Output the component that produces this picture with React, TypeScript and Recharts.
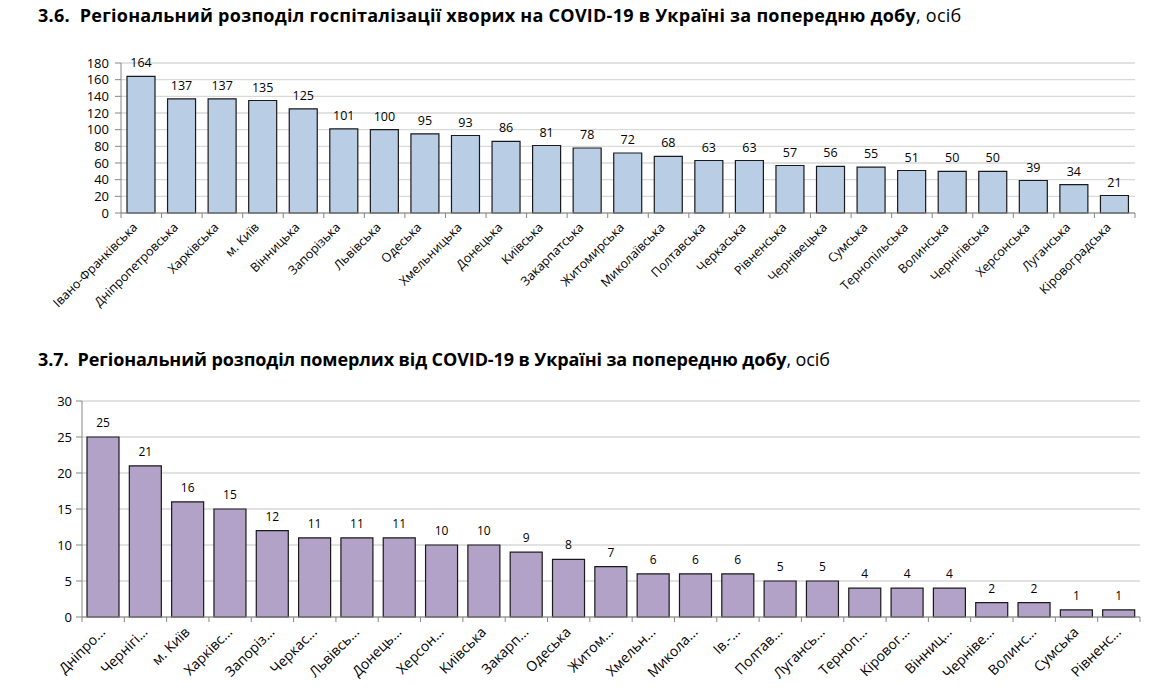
import React from "react";
import { BarChart, Bar, XAxis, YAxis, CartesianGrid, LabelList } from "recharts";

const hospRegions = [
  "Івано-Франківська", "Дніпропетровська", "Харківська", "м. Київ", "Вінницька",
  "Запорізька", "Львівська", "Одеська", "Хмельницька", "Донецька", "Київська",
  "Закарпатська", "Житомирська", "Миколаївська", "Полтавська", "Черкаська",
  "Рівненська", "Чернівецька", "Сумська", "Тернопільська", "Волинська",
  "Чернігівська", "Херсонська", "Луганська", "Кіровоградська",
];
const hospValues = [164, 137, 137, 135, 125, 101, 100, 95, 93, 86, 81, 78, 72, 68, 63, 63, 57, 56, 55, 51, 50, 50, 39, 34, 21];
const hospTicks = [0, 20, 40, 60, 80, 100, 120, 140, 160, 180];

const deathRegions = [
  "Дніпро...", "Чернігі...", "м. Київ", "Харківс...", "Запоріз...", "Черкас...",
  "Львівсь...", "Донець...", "Херсон...", "Київська", "Закарп...", "Одеська",
  "Житом...", "Хмельн...", "Микола...", "Ів.-...", "Полтав...", "Лугансь...",
  "Терноп...", "Кіровог...", "Вінниц...", "Черніве...", "Волинс...", "Сумська", "Рівненс...",
];
const deathValues = [25, 21, 16, 15, 12, 11, 11, 11, 10, 10, 9, 8, 7, 6, 6, 6, 5, 5, 4, 4, 4, 2, 2, 1, 1];
const deathTicks = [0, 5, 10, 15, 20, 25, 30];

const hospData = hospRegions.map((name, i) => ({ name, value: hospValues[i] }));
const deathData = deathRegions.map((name, i) => ({ name, value: deathValues[i] }));

const FONT = "'Open Sans', 'Noto Sans', sans-serif";

const W = 1160;
const T_LEFT = 121, T_RIGHT = 1135;
const B_LEFT = 82, B_RIGHT = 1140;

function makeTick(step: number, fontSize: number, dx: number, dy: number) {
  return (props: any) => {
    const { x, y, payload, index } = props;
    return (
      <g>
        {index === 0 && (
          <line x1={x - step / 2} x2={x - step / 2} y1={y} y2={y + 5} stroke="#868686" strokeWidth={1} />
        )}
        <line x1={x + step / 2} x2={x + step / 2} y1={y} y2={y + 5} stroke="#868686" strokeWidth={1} />
        <text
          x={x + dx}
          y={y + dy}
          textAnchor="end"
          fontSize={fontSize}
          fontFamily={FONT}
          fill="#000"
          transform={`rotate(-45 ${x + dx} ${y + dy})`}
        >
          {payload.value}
        </text>
      </g>
    );
  };
}

const titleStyle: React.CSSProperties = {
  position: "absolute",
  left: 38,
  fontFamily: "'Open Sans', sans-serif",
  fontSize: 18,
  color: "#000",
  whiteSpace: "nowrap",
  letterSpacing: -0.1,
  lineHeight: "24px",
};

export default function App() {
  const topStep = (T_RIGHT - T_LEFT) / hospData.length;
  const botStep = (B_RIGHT - B_LEFT) / deathData.length;
  return (
    <div style={{ position: "absolute", left: 0, top: 0, width: W, height: 694, background: "#fff", overflow: "hidden" }}>
      <div style={{ ...titleStyle, top: 3, letterSpacing: 0.25 }}>
        <b>3.6.&nbsp; Регіональний розподіл госпіталізації хворих на COVID-19 в Україні за попередню добу</b>, осіб
      </div>
      <div style={{ position: "absolute", left: 0, top: 0 }}>
        <BarChart
          width={W}
          height={340}
          data={hospData}
          margin={{ top: 63, right: W - T_RIGHT, left: 0, bottom: 7 }}
          barSize={28}
        >
          <CartesianGrid vertical={false} stroke="#d9d9d9" strokeWidth={1.3} />
          <XAxis
            dataKey="name"
            interval={0}
            height={120}
            axisLine={{ stroke: "#868686" }}
            tickLine={false}
            tickSize={0}
            tickMargin={0}
            tick={makeTick(topStep, 12.5, -3, 15)}
          />
          <YAxis
            width={T_LEFT}
            domain={[0, 180]}
            ticks={hospTicks}
            interval={0}
            axisLine={{ stroke: "#868686" }}
            tickLine={{ stroke: "#868686" }}
            tickSize={6}
            tick={{ fontSize: 13, fontFamily: FONT, fill: "#000", dx: -4 }}
          />
          <Bar dataKey="value" fill="#b9cde5" stroke="#1a1a1a" strokeWidth={1.2} isAnimationActive={false}>
            <LabelList dataKey="value" position="top" offset={9} fontSize={12.5} fontFamily={FONT} fill="#000" />
          </Bar>
        </BarChart>
      </div>
      <div style={{ ...titleStyle, top: 347 }}>
        <b>3.7.&nbsp; Регіональний розподіл померлих від COVID-19 в Україні за попередню добу</b>, осіб
      </div>
      <div style={{ position: "absolute", left: 0, top: 380 }}>
        <BarChart
          width={W}
          height={314}
          data={deathData}
          margin={{ top: 21, right: W - B_RIGHT, left: 0, bottom: 0 }}
          barSize={32}
        >
          <CartesianGrid vertical={false} stroke="#d9d9d9" strokeWidth={1.3} />
          <XAxis
            dataKey="name"
            interval={0}
            height={77}
            axisLine={{ stroke: "#868686" }}
            tickLine={false}
            tickSize={0}
            tickMargin={0}
            tick={makeTick(botStep, 14, 3, 16)}
          />
          <YAxis
            width={B_LEFT}
            domain={[0, 30]}
            ticks={deathTicks}
            interval={0}
            axisLine={{ stroke: "#868686" }}
            tickLine={{ stroke: "#868686" }}
            tickSize={6}
            tick={{ fontSize: 13, fontFamily: FONT, fill: "#000", dx: -2 }}
          />
          <Bar dataKey="value" fill="#b3a2c7" stroke="#1a1a1a" strokeWidth={1.2} isAnimationActive={false}>
            <LabelList dataKey="value" position="top" offset={10} fontSize={12} fontFamily={FONT} fill="#000" />
          </Bar>
        </BarChart>
      </div>
    </div>
  );
}
